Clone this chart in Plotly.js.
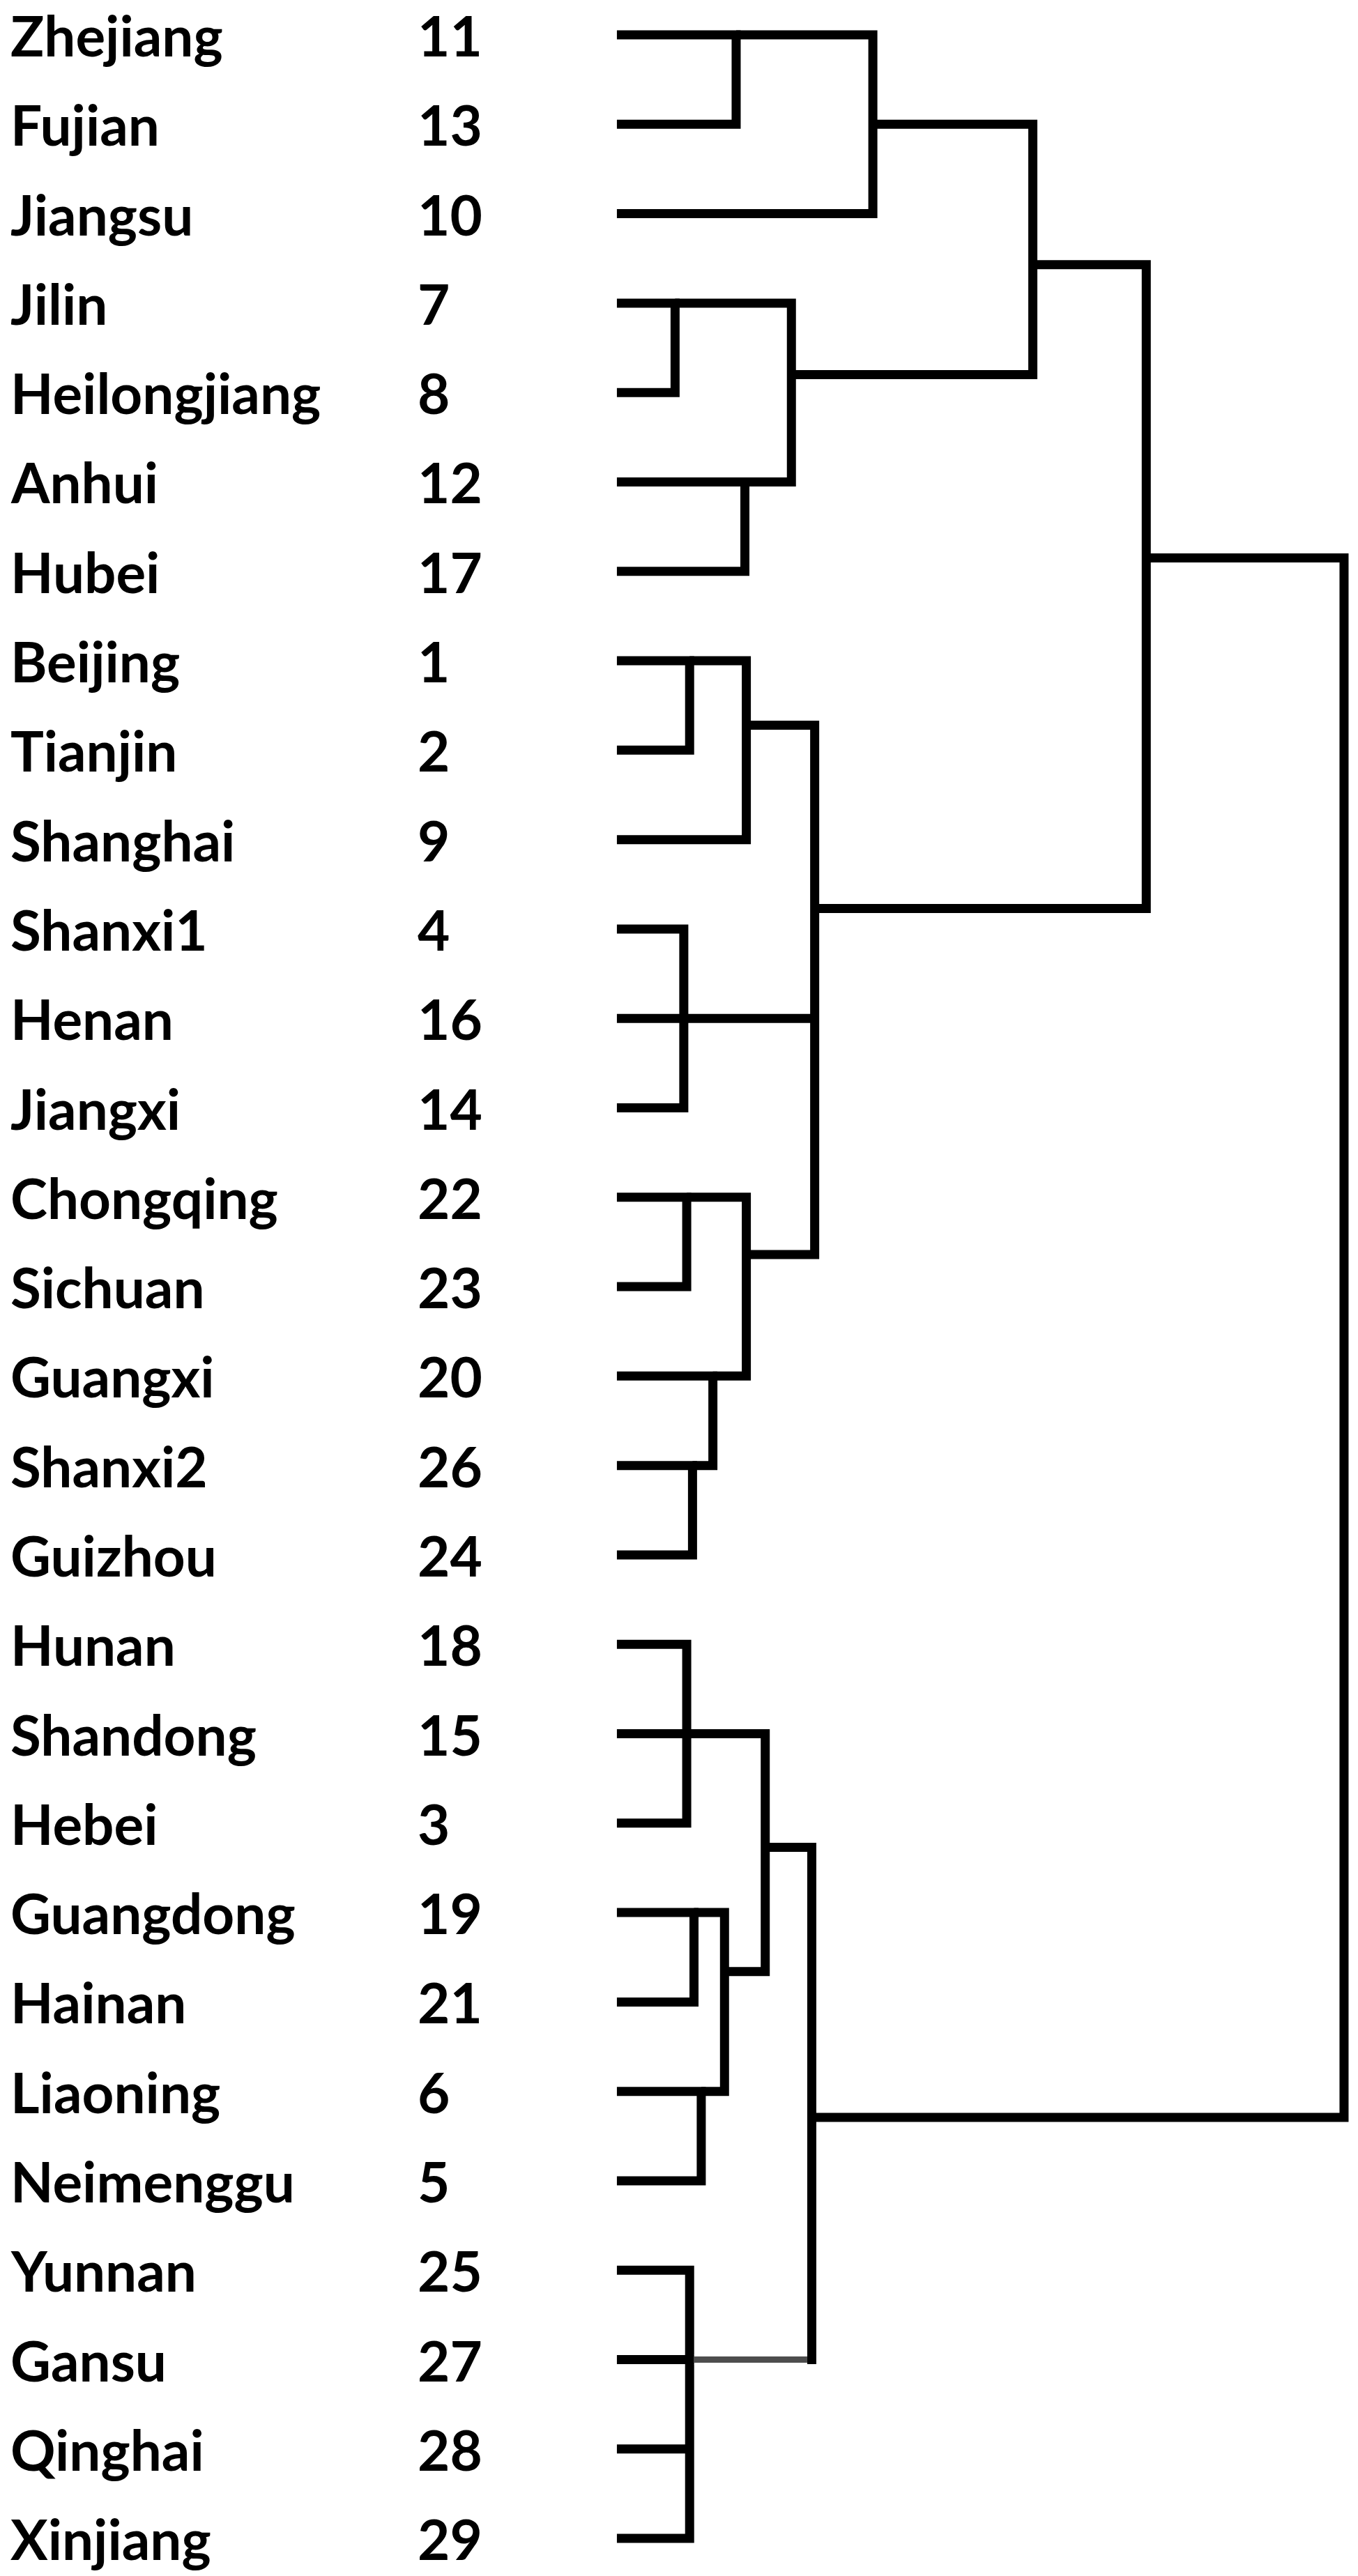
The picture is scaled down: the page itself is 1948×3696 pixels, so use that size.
<!DOCTYPE html>
<html>
<head>
<meta charset="utf-8">
<script src="https://cdn.plot.ly/plotly-3.0.1.min.js"></script>
<style>html,body{margin:0;padding:0;background:#fff}</style>
</head>
<body>
<div id="plot-area" style="width:1948px;height:3696px"></div>
<script>
// leaves, top to bottom, with their case numbers
var provinces = ["Zhejiang","Fujian","Jiangsu","Jilin","Heilongjiang","Anhui","Hubei",
    "Beijing","Tianjin","Shanghai","Shanxi1","Henan","Jiangxi","Chongqing","Sichuan",
    "Guangxi","Shanxi2","Guizhou","Hunan","Shandong","Hebei","Guangdong","Hainan",
    "Liaoning","Neimenggu","Yunnan","Gansu","Qinghai","Xinjiang"];
var caseIds = [11,13,10,7,8,12,17,1,2,9,4,16,14,22,23,20,26,24,18,15,3,19,21,6,5,25,27,28,29];

// cluster joins: members, combine distance (0-25 scale), row where the link to the parent leaves
var mergeNames   = ["m1","m2","m3","m4","m5","m6",
                    "m7","m8","m9","m10","m11","m12","m13","m14","top",
                    "m15","m16","m17","m18","m19","m20","m21","root"];
var mergeMembers = [["Zhejiang","Fujian"], ["m1","Jiangsu"], ["Jilin","Heilongjiang"],
                    ["Anhui","Hubei"], ["m3","m4"], ["m2","m5"],
                    ["Beijing","Tianjin"], ["m7","Shanghai"], ["Shanxi1","Henan","Jiangxi"],
                    ["Chongqing","Sichuan"], ["Shanxi2","Guizhou"], ["Guangxi","m11"],
                    ["m10","m12"], ["m8","m9","m13"], ["m6","m14"],
                    ["Hunan","Shandong","Hebei"], ["Guangdong","Hainan"], ["Liaoning","Neimenggu"],
                    ["m16","m17"], ["m15","m18"], ["Yunnan","Gansu","Qinghai","Xinjiang"],
                    ["m19","m20"], ["top","m21"]];
var mergeDist    = [4.1, 8.8, 2.0, 4.4, 6.0, 14.3,
                    2.5, 4.45, 2.3, 2.4, 2.6, 3.3, 4.45, 6.8, 18.2,
                    2.4, 2.65, 2.9, 3.7, 5.1, 2.5, 6.7, 25];
var mergeLinkRow = [0, 1, 3, 5, 3.8, 2.57,
                    7, 7.72, 11, 13, 16, 15, 13.64, 9.77, 5.85,
                    19, 21, 23, 21.66, 20.27, 26, 23.29, 0];

// the link that is drawn lighter in the original
var fadedLink = "m20";

var X_RANGE = [-21.21, 25.48], Y_RANGE = [28.42, -0.39], LINE_W = 13;

function nodeInfo(name) {
    var i = provinces.indexOf(name);
    if (i >= 0) return {name: name, d: 0, r: i};
    var k = mergeNames.indexOf(name);
    return {name: name, d: mergeDist[k], r: mergeLinkRow[k]};
}

function UpdatePlot() {
    var xs = [], ys = [];
    var fx = [], fy = [];
    var halfW = (LINE_W / 2) * (X_RANGE[1] - X_RANGE[0]) / 1948;

    for (var k = 0; k < mergeNames.length; k++) {
        var D = mergeDist[k];
        var kids = mergeMembers[k].map(nodeInfo);
        kids.sort(function (a, b) { return a.r - b.r; });
        var first = kids[0], last = kids[kids.length - 1];
        // bracket: first child -> vertical -> last child
        xs.push(first.d, D, D, last.d, null);
        ys.push(first.r, first.r, last.r, last.r, null);
        for (var j = 1; j < kids.length - 1; j++) {
            xs.push(kids[j].d, D, null);
            ys.push(kids[j].r, kids[j].r, null);
        }
        kids.forEach(function (c) {
            if (c.name === fadedLink) {
                fx.push(c.d + halfW, D - halfW, null);
                fy.push(c.r, c.r, null);
            }
        });
    }

    var data = [
        {
            x: xs, y: ys,
            mode: "lines",
            line: {color: "black", width: LINE_W},
            hoverinfo: "skip",
            showlegend: false
        },
        {
            x: fx, y: fy,
            mode: "lines",
            line: {color: "white", width: LINE_W + 1},
            hoverinfo: "skip",
            showlegend: false
        },
        {
            x: fx, y: fy,
            mode: "lines",
            line: {color: "#4d4d4d", width: 9},
            hoverinfo: "skip",
            showlegend: false
        }
    ];

    var labelFont = {family: "Lato, 'Liberation Sans', sans-serif", size: 80, color: "black", weight: 700};
    var annotations = [];
    provinces.forEach(function (p, i) {
        annotations.push({xref: "paper", yref: "y", x: 14 / 1948, y: i, text: p,
            xanchor: "left", yanchor: "middle", borderpad: 0, showarrow: false, font: labelFont});
        annotations.push({xref: "paper", yref: "y", x: 598 / 1948, y: i, text: String(caseIds[i]),
            xanchor: "left", yanchor: "middle", borderpad: 0, showarrow: false, font: labelFont});
    });

    var layout = {
        width: 1948, height: 3696,
        margin: {l: 0, r: 0, t: 0, b: 0},
        paper_bgcolor: "white", plot_bgcolor: "white",
        xaxis: {range: X_RANGE, visible: false, fixedrange: true},
        yaxis: {range: Y_RANGE, visible: false, fixedrange: true},
        annotations: annotations,
        showlegend: false
    };

    Plotly.newPlot("plot-area", data, layout, {displayModeBar: false, staticPlot: true});
}

UpdatePlot();
</script>
</body>
</html>
